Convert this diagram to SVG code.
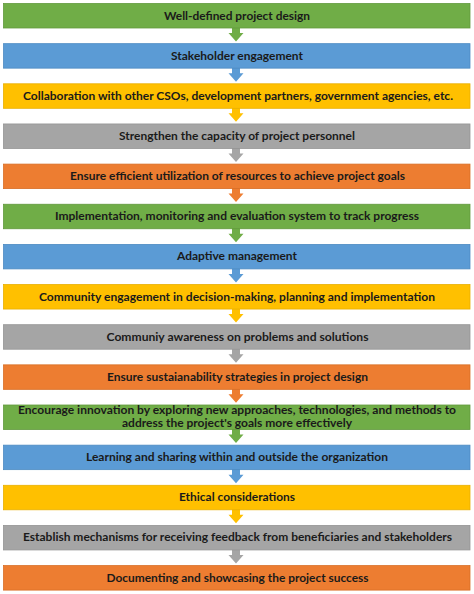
<svg xmlns="http://www.w3.org/2000/svg" xmlns:xlink="http://www.w3.org/1999/xlink" width="474" height="594" viewBox="0 0 474 594">
<style>
.bar{stroke-width:0.8}
.g{fill:#70AD47;stroke:#62993d}
.b{fill:#5B9BD5;stroke:#4e8bc2}
.y{fill:#FFC000;stroke:#e8af00}
.s{fill:#A5A5A5;stroke:#959595}
.o{fill:#ED7D31;stroke:#d86f27}
.t{font-family:Lato,"Open Sans","Liberation Sans",sans-serif;font-weight:bold;font-size:12px;fill:#1a1a1a;text-anchor:middle}
.t2{font-size:11px}
</style>
<defs>
<path id="arr" d="M232,-1 H240 V5 H243.5 L236,13.5 L228.5,5 H232 Z"/>
</defs>
<rect x="0" y="0" width="474" height="594" fill="#ffffff"/>
<g id="connectors">
<use xlink:href="#arr" transform="translate(0,28)" fill="#70AD47"/>
<use xlink:href="#arr" transform="translate(0,68.15)" fill="#5B9BD5"/>
<use xlink:href="#arr" transform="translate(0,108.3)" fill="#FFC000"/>
<use xlink:href="#arr" transform="translate(0,148.45)" fill="#A5A5A5"/>
<use xlink:href="#arr" transform="translate(0,188.6)" fill="#ED7D31"/>
<use xlink:href="#arr" transform="translate(0,228.75)" fill="#70AD47"/>
<use xlink:href="#arr" transform="translate(0,268.9)" fill="#5B9BD5"/>
<use xlink:href="#arr" transform="translate(0,309.05)" fill="#FFC000"/>
<use xlink:href="#arr" transform="translate(0,349.2)" fill="#A5A5A5"/>
<use xlink:href="#arr" transform="translate(0,389.35)" fill="#ED7D31"/>
<use xlink:href="#arr" transform="translate(0,429.5)" fill="#70AD47"/>
<use xlink:href="#arr" transform="translate(0,469.65)" fill="#5B9BD5"/>
<use xlink:href="#arr" transform="translate(0,509.8)" fill="#FFC000"/>
<use xlink:href="#arr" transform="translate(0,549.95)" fill="#A5A5A5"/>
</g>
<g id="n1"><rect class="bar g" x="3.5" y="3.5" width="466.5" height="24.5"/><text class="t" x="237" y="19.5" textLength="146" lengthAdjust="spacingAndGlyphs">Well-defined project design</text></g>
<g id="n2"><rect class="bar b" x="3.5" y="43.65" width="466.5" height="24.5"/><text class="t" x="237" y="59.65" textLength="132" lengthAdjust="spacingAndGlyphs">Stakeholder engagement</text></g>
<g id="n3"><rect class="bar y" x="3.5" y="83.8" width="466.5" height="24.5"/><text class="t" x="238" y="99.8" textLength="430" lengthAdjust="spacingAndGlyphs">Collaboration with other CSOs, development partners, government agencies, etc.</text></g>
<g id="n4"><rect class="bar s" x="3.5" y="123.95" width="466.5" height="24.5"/><text class="t" x="237" y="139.95" textLength="236" lengthAdjust="spacingAndGlyphs">Strengthen the capacity of project personnel</text></g>
<g id="n5"><rect class="bar o" x="3.5" y="164.1" width="466.5" height="24.5"/><text class="t" x="237.5" y="180.1" textLength="335" lengthAdjust="spacingAndGlyphs">Ensure efficient utilization of resources to achieve project goals</text></g>
<g id="n6"><rect class="bar g" x="3.5" y="204.25" width="466.5" height="24.5"/><text class="t" x="237" y="220.25" textLength="364" lengthAdjust="spacingAndGlyphs">Implementation, monitoring and evaluation system to track progress</text></g>
<g id="n7"><rect class="bar b" x="3.5" y="244.4" width="466.5" height="24.5"/><text class="t" x="237" y="260.4" textLength="120" lengthAdjust="spacingAndGlyphs">Adaptive management</text></g>
<g id="n8"><rect class="bar y" x="3.5" y="284.55" width="466.5" height="24.5"/><text class="t" x="237" y="300.55" textLength="396" lengthAdjust="spacingAndGlyphs">Community engagement in decision-making, planning and implementation</text></g>
<g id="n9"><rect class="bar s" x="3.5" y="324.7" width="466.5" height="24.5"/><text class="t" x="237.5" y="340.7" textLength="262" lengthAdjust="spacingAndGlyphs">Communiy awareness on problems and solutions</text></g>
<g id="n10"><rect class="bar o" x="3.5" y="364.85" width="466.5" height="24.5"/><text class="t" x="237.5" y="380.85" textLength="261" lengthAdjust="spacingAndGlyphs">Ensure sustaianability strategies in project design</text></g>
<g id="n11"><rect class="bar g" x="3.5" y="405" width="466.5" height="24.5"/><text class="t t2" x="237" y="414.2" textLength="438" lengthAdjust="spacingAndGlyphs">Encourage innovation by exploring new approaches, technologies, and methods to</text><text class="t t2" x="237" y="427.4" textLength="230" lengthAdjust="spacingAndGlyphs">address the project's goals more effectively</text></g>
<g id="n12"><rect class="bar b" x="3.5" y="445.15" width="466.5" height="24.5"/><text class="t" x="237" y="461.15" textLength="302" lengthAdjust="spacingAndGlyphs">Learning and sharing within and outside the organization</text></g>
<g id="n13"><rect class="bar y" x="3.5" y="485.3" width="466.5" height="24.5"/><text class="t" x="237" y="501.3" textLength="116" lengthAdjust="spacingAndGlyphs">Ethical considerations</text></g>
<g id="n14"><rect class="bar s" x="3.5" y="525.45" width="466.5" height="24.5"/><text class="t" x="237.5" y="541.45" textLength="429" lengthAdjust="spacingAndGlyphs">Establish mechanisms for receiving feedback from beneficiaries and stakeholders</text></g>
<g id="n15"><rect class="bar o" x="3.5" y="565.6" width="466.5" height="24.5"/><text class="t" x="237.5" y="581.6" textLength="262" lengthAdjust="spacingAndGlyphs">Documenting and showcasing the project success</text></g>
</svg>
